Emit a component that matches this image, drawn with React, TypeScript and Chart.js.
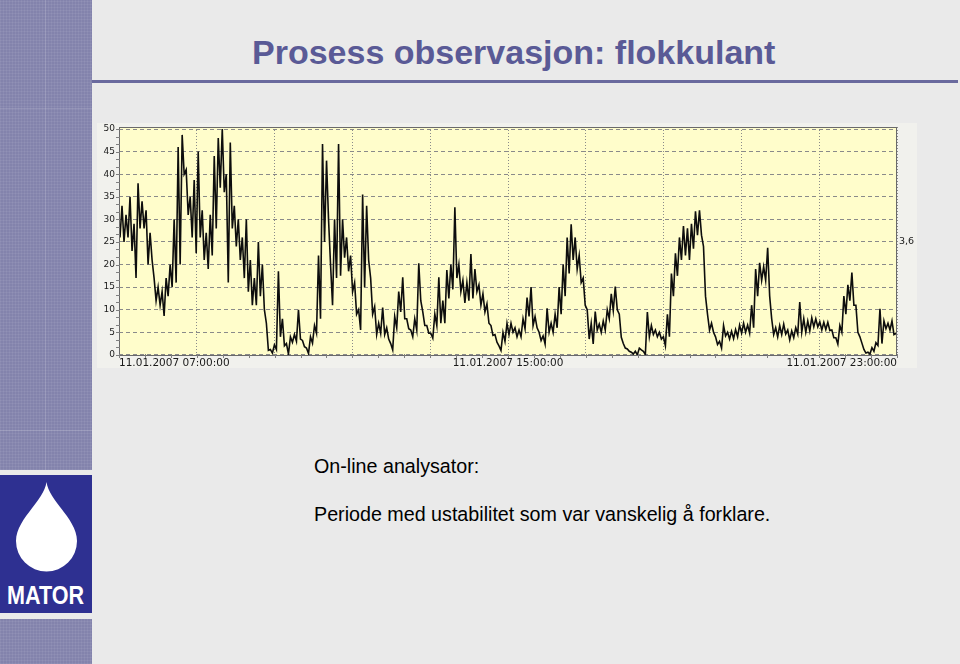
import React, { useEffect, useRef } from 'react';
import { Chart, registerables } from 'chart.js';

Chart.register(...registerables);

// ---- data ----
const titleText = 'Prosess observasjon: flokkulant';
const bodyLine1 = 'On-line analysator:';
const bodyLine2 = 'Periode med ustabilitet som var vanskelig å forklare.';
const logoText = 'MATOR';

const xTickLabels = ['11.01.2007 07:00:00', '11.01.2007 15:00:00', '11.01.2007 23:00:00'];
const hoursSpan = 16; // 07:00 -> 23:00
const xDivisions = 10;
const yTicks = [0, 5, 10, 15, 20, 25, 30, 35, 40, 45, 50];
const yMin = -0.25;
const yMax = 50.45;
const currentValueLabel = '3,6';
const currentValueLevel = 25;

// noisy flokkulant signal, read as upper / lower edge of the trace, sampled evenly 07:00 -> 23:00
const traceUpper = [
  31, 33, 31, 35, 29, 38, 34, 32, 27, 17,
  15, 14, 17, 20, 30, 46, 48.7, 41, 35, 38.7,
  45, 32, 27, 31, 44, 48, 50, 40, 47, 33,
  30, 26, 30, 21, 17, 25, 20, 7, 1.2, 2.2,
  18.5, 8, 2.5, 4, 4.5, 10, 3.2, 1.5, 4, 6.5,
  22, 46.7, 43, 20, 30, 46.7, 30, 26, 22, 16,
  10, 35.5, 33, 17, 10.7, 7, 10.5, 6, 2.5, 8.5,
  14, 17.2, 8, 5.5, 8, 20.3, 9.5, 6.5, 4.8, 9,
  17.2, 12, 18.8, 20, 32.7, 20, 16.5, 16, 22.3, 19,
  15.5, 13.5, 11.3, 6.5, 4.5, 2, 5, 7, 7, 6,
  5.5, 8, 12.7, 15, 8.5, 5, 4.2, 10.3, 7, 9,
  15, 20, 26, 28.9, 26, 22, 17, 10, 7, 9.6,
  6.8, 7.5, 10, 13.5, 15.1, 9, 2.5, 1.3, 0.6, 0.8,
  1.5, 0.8, 9.5, 6.5, 5.5, 5, 4, 9, 18, 22.5,
  26, 28.5, 28, 29, 31.8, 32, 24, 9, 7, 4,
  3, 6.5, 5, 5.2, 5.6, 6.6, 7, 6.6, 11, 19,
  20.4, 19.5, 23.7, 8, 6, 6.5, 6.8, 5.5, 5.3, 6,
  11.7, 8, 7.5, 8.2, 8, 7.3, 7.2, 7.2, 5.5, 3.8,
  6.5, 13, 15.5, 18.2, 11, 4, 1.2, 0.6, 1.6, 2.7,
  10.2, 7.5, 7, 7.5, 4.8,
];
const traceLower = [
  26, 25, 26, 23, 17, 28, 28, 20, 21, 12,
  11, 8.6, 13, 15, 16, 20, 40, 31, 26, 22.5,
  26, 21, 19, 22, 28, 37, 36, 16, 28, 24,
  21, 17, 14, 11, 11, 13, 10, 1, 0.4, 1.2,
  4, 2, 0.2, 2.8, 3, 3.5, 1.8, 0.3, 2.6, 4.8,
  8, 25, 30, 11, 17, 17.5, 21.5, 18.5, 14, 9,
  5.5, 15, 21, 9, 4.5, 4.8, 4.5, 3.5, 1.1, 6,
  9.5, 8, 5.8, 4, 5.5, 12, 6.5, 4.8, 3.7, 6.5,
  7, 7, 12.5, 14.5, 17, 14, 11.5, 12, 12.5, 14,
  11, 9.5, 7, 4.3, 2.8, 1, 3, 4.5, 5, 4,
  4, 5.8, 8.5, 6.5, 6, 3.2, 2.4, 5, 5, 6,
  9, 13, 18, 21, 19, 16, 11, 3.5, 2.4, 5.5,
  5, 5.5, 8, 9.8, 10, 3.9, 1.5, 0.8, 0.2, 0,
  1.1, 0.1, 4, 4.5, 4, 3.5, 2, 4, 13, 17.5,
  21, 22, 21, 23.5, 26.5, 26.5, 13, 5.5, 5, 2.3,
  1.5, 4.2, 3.5, 3.6, 4, 4.8, 5, 4.8, 6, 13,
  16.5, 16.5, 13, 4.5, 4, 4.5, 4.6, 3.3, 3.8, 4.6,
  5, 5, 5.3, 6.2, 6.2, 5.5, 5.6, 5.4, 3.8, 2.4,
  5, 9, 12, 11, 5, 2.6, 0.4, 0.2, 0.8, 2.1,
  2.5, 5.8, 5.5, 4.5, 3.6,
];

const SLIDE_BG = '#EAEAEA';
const STRIP = '#8383AC';
const LOGO_BLUE = '#2E3091';
const TITLE_COLOR = '#5A5A96';
const TRACE = '#0d0d0d';

function TrendChart() {
  const ref = useRef<HTMLCanvasElement>(null);
  useEffect(() => {
    const canvas = ref.current;
    if (!canvas) return;
    const n = traceUpper.length;
    const dt = hoursSpan / (n - 1);
    // the recorded trace swings between its upper and lower edge in every sample interval
    const points: { x: number; y: number }[] = [];
    for (let i = 0; i < n; i++) {
      points.push({ x: i * dt - dt / 4, y: traceUpper[i] });
      points.push({ x: i * dt + dt / 4, y: traceLower[i] });
    }

    const plotDecor = {
      id: 'plotDecor',
      beforeDraw(chart: any) {
        const { ctx, chartArea: a } = chart;
        ctx.save();
        ctx.fillStyle = '#F1F1ED';
        ctx.fillRect(0, 0, chart.width, chart.height);
        ctx.fillStyle = '#FFFDCB';
        ctx.fillRect(a.left, a.top, a.right - a.left, a.bottom - a.top);
        ctx.restore();
      },
      afterDraw(chart: any) {
        const { ctx, chartArea: a, scales } = chart;
        ctx.save();
        ctx.strokeStyle = '#6a6a6a';
        ctx.lineWidth = 1;
        ctx.setLineDash([]);
        ctx.strokeRect(a.left + 0.5, a.top + 0.5, a.right - a.left - 1, a.bottom - a.top - 1);
        ctx.strokeStyle = '#808080';
        ctx.beginPath();
        for (let k = 0; k <= 30; k++) {
          const x = Math.round(scales.x.getPixelForValue((k * hoursSpan) / 30)) + 0.5;
          ctx.moveTo(x, a.bottom - 2);
          ctx.lineTo(x, a.bottom + 2);
          const y = Math.round(scales.y.getPixelForValue((k * 50) / 30)) + 0.5;
          ctx.moveTo(a.left - 3, y);
          ctx.lineTo(a.left + 1, y);
        }
        ctx.stroke();
        ctx.restore();
      },
    };

    const tickFont = { family: '"DejaVu Sans", sans-serif', size: 9 };

    const chart = new Chart(canvas, {
      type: 'line',
      data: {
        datasets: [
          {
            data: points,
            borderColor: TRACE,
            borderWidth: 1.6,
            pointRadius: 0,
            tension: 0,
            fill: false,
          },
        ],
      },
      options: {
        animation: false,
        responsive: false,
        devicePixelRatio: 1,
        layout: { padding: { top: 4, left: 0, right: 0, bottom: 0 } },
        plugins: { legend: { display: false }, tooltip: { enabled: false } },
        scales: {
          x: {
            type: 'linear',
            min: 0,
            max: hoursSpan,
            afterBuildTicks: (s: any) => {
              s.ticks = Array.from({ length: xDivisions + 1 }, (_, k) => ({ value: (k * hoursSpan) / xDivisions }));
            },
            afterFit: (s: any) => {
              s.height = 12;
              s.paddingLeft = 0;
              s.paddingRight = 0;
            },
            ticks: {
              autoSkip: false,
              maxRotation: 0,
              minRotation: 0,
              align: 'inner',
              padding: 1,
              color: '#1a1a1a',
              font: { family: '"DejaVu Sans", sans-serif', size: 10.5 },
              callback: (_v: any, i: number) =>
                i === 0 ? xTickLabels[0] : i === xDivisions / 2 ? xTickLabels[1] : i === xDivisions ? xTickLabels[2] : '',
            },
            grid: { color: '#8a8a8a', lineWidth: 1, drawTicks: false },
            border: { display: false, dash: [1, 2] },
          },
          y: {
            type: 'linear',
            min: yMin,
            max: yMax,
            afterBuildTicks: (s: any) => {
              s.ticks = yTicks.map((v) => ({ value: v }));
            },
            afterFit: (s: any) => {
              s.width = 22;
              s.paddingTop = 0;
              s.paddingBottom = 0;
            },
            ticks: { autoSkip: false, padding: 4, color: '#1a1a1a', font: tickFont },
            grid: { color: '#8a8a8a', lineWidth: 1, drawTicks: false },
            border: { display: false, dash: [4, 3] },
          },
          y2: {
            type: 'linear',
            position: 'right',
            min: yMin,
            max: yMax,
            afterBuildTicks: (s: any) => {
              s.ticks = [{ value: currentValueLevel }];
            },
            afterFit: (s: any) => {
              s.width = 20;
              s.paddingTop = 0;
              s.paddingBottom = 0;
            },
            ticks: {
              autoSkip: false,
              padding: 2,
              color: '#1a1a1a',
              font: { family: '"DejaVu Sans", sans-serif', size: 9.5 },
              callback: () => currentValueLabel,
            },
            grid: { display: false, drawTicks: false },
            border: { display: false },
          },
        },
      } as any,
      plugins: [plotDecor],
    });
    return () => chart.destroy();
  }, []);
  return <canvas ref={ref} width={820} height={245} style={{ position: 'absolute', left: 97, top: 123, width: 820, height: 245 }} />;
}

export default function App() {
  const texture =
    'repeating-linear-gradient(0deg, rgba(255,255,255,0.06) 0px, rgba(255,255,255,0.06) 1px, transparent 1px, transparent 3px), repeating-linear-gradient(90deg, rgba(255,255,255,0.06) 0px, rgba(255,255,255,0.06) 1px, transparent 1px, transparent 3px)';
  return (
    <div
      style={{
        position: 'fixed',
        left: 0,
        top: 0,
        width: 960,
        height: 664,
        background: SLIDE_BG,
        overflow: 'hidden',
        fontFamily: '"Liberation Sans", Arial, sans-serif',
      }}
    >
      {/* left decorative strip */}
      <div style={{ position: 'absolute', left: 0, top: 0, width: 92, height: 470, background: STRIP, backgroundImage: texture }} />
      <div style={{ position: 'absolute', left: 45, top: 0, width: 1, height: 470, background: 'rgba(255,255,255,0.12)' }} />
      <div style={{ position: 'absolute', left: 0, top: 108, width: 92, height: 1, background: 'rgba(255,255,255,0.12)' }} />
      <div style={{ position: 'absolute', left: 0, top: 430, width: 92, height: 1, background: 'rgba(255,255,255,0.15)' }} />
      <div style={{ position: 'absolute', left: 0, top: 619, width: 92, height: 45, background: STRIP, backgroundImage: texture }} />

      {/* logo */}
      <div style={{ position: 'absolute', left: 0, top: 475, width: 92, height: 138, background: LOGO_BLUE }}>
        <svg width={92} height={138} style={{ position: 'absolute', left: 0, top: 0 }}>
          <path d="M 46.5 7 C 49 26, 77 44, 77 66 A 30.5 30.5 0 0 1 16 66 C 16 44, 44 26, 46.5 7 Z" fill="#ffffff" />
          <text
            x={7}
            y={129}
            textLength={77}
            lengthAdjust="spacingAndGlyphs"
            fill="#ffffff"
            fontFamily='"Liberation Sans", Arial, sans-serif'
            fontWeight="bold"
            fontSize={25}
          >
            {logoText}
          </text>
        </svg>
      </div>

      {/* title */}
      <div
        style={{
          position: 'absolute',
          left: 252,
          top: 35,
          fontSize: 34,
          lineHeight: '34px',
          fontWeight: 'bold',
          color: TITLE_COLOR,
          whiteSpace: 'nowrap',
        }}
      >
        {titleText}
      </div>
      <div style={{ position: 'absolute', left: 92, top: 80, width: 866, height: 3, background: '#6A6A9E' }} />

      <TrendChart />

      <div style={{ position: 'absolute', left: 314, top: 456, fontSize: 19.7, lineHeight: '20px', color: '#000', whiteSpace: 'nowrap' }}>
        {bodyLine1}
      </div>
      <div style={{ position: 'absolute', left: 314, top: 504, fontSize: 19.7, lineHeight: '20px', color: '#000', whiteSpace: 'nowrap' }}>
        {bodyLine2}
      </div>
    </div>
  );
}
